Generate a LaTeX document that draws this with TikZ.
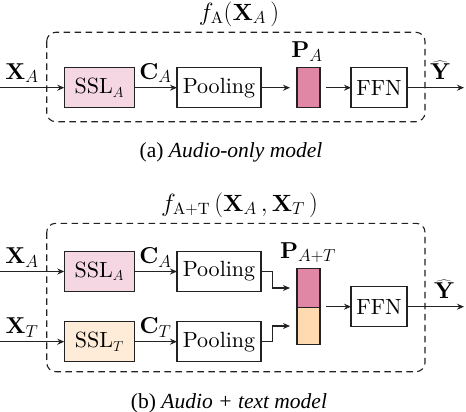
\documentclass[tikz,border=0pt]{standalone}
\usepackage{fontspec}
\setmainfont{lmroman10-regular.otf}[BoldFont=lmroman10-bold.otf, ItalicFont=lmroman10-italic.otf, BoldItalicFont=lmroman10-bolditalic.otf]
\newfontfamily\capfont{Liberation Serif}
\usetikzlibrary{arrows.meta,calc}
\definecolor{sslA}{HTML}{F4D7E2}
\definecolor{pA}{HTML}{DF87A5}
\definecolor{sslT}{HTML}{FEEBD8}
\definecolor{pT}{HTML}{FFDAB0}
\definecolor{ink}{HTML}{222222}
\begin{document}
\begin{tikzpicture}[x=1pt,y=-1pt, font=\fontsize{22}{26}\selectfont,
 blockbox/.style={draw=ink, line width=1.2pt, minimum height=40pt, inner sep=0pt, outer sep=0pt},
 sslbox/.style={blockbox, minimum width=70pt},
 poolbox/.style={blockbox, minimum width=84pt, fill=white},
 ffnbox/.style={blockbox, minimum width=56pt, fill=white},
 vecbox/.style={blockbox, minimum width=23pt},
 arr/.style={draw=ink, line width=1.2pt, -{Stealth[length=7pt,width=6pt]}},
 frame/.style={draw=ink, line width=1.1pt, dash pattern=on 6.5pt off 4.5pt, rounded corners=9pt},
 lab/.style={anchor=base, inner sep=0pt, font=\fontsize{23}{27}\selectfont},
 ttl/.style={inner sep=0pt, font=\fontsize{23.5}{27}\selectfont},
 captxt/.style={inner sep=0pt, font=\fontsize{21.5}{25}\capfont},
]
\useasboundingbox (0,0) rectangle (466,412);

% ---------- (a) ----------
\draw[frame] (46.7,32.3) rectangle (425,121.7);
\node[ttl] (titlea) at (239,14) {$f_{\mathrm{A}}(\mathbf{X}_A\,)$};
\coordinate (ina) at (0,87.7);
\coordinate (outa) at (464,87.7);
\node[sslbox, fill=sslA] (ssla) at (99.3,87.7) {SSL$_A$};
\node[poolbox] (poola) at (219,87.7) {Pooling};
\node[vecbox, fill=pA] (pa) at (308.5,87.7) {};
\node[ffnbox] (ffna) at (379,87.7) {FFN};
\draw[arr] (ina) -- (ssla.west);
\draw[arr] (ssla.east) -- (poola.west);
\draw[arr, shorten >=7pt] (poola.east) -- (pa.west);
\draw[arr, shorten <=6pt] (pa.east) -- (ffna.west);
\draw[arr] (ffna.east) -- (outa);
\node[lab] (xaa) at (22,79.2) {$\mathbf{X}_A$};
\node[lab] (caa) at (155.5,79.2) {$\mathbf{C}_A$};
\node[lab] (paa) at (307,58) {$\mathbf{P}_A$};
\node[lab] (ya) at (440,79.7) {$\widehat{\mathbf{Y}}$};
\node[captxt] (capa) at (231,152) {(a) \itshape Audio-only model};

% ---------- (b) ----------
\draw[frame] (46.7,223.3) rectangle (425,371.7);
\node[ttl] (titleb) at (239.5,205) {$f_{\mathrm{A+T}}\,(\mathbf{X}_A\,, \mathbf{X}_T\,)$};
\coordinate (inab) at (0,271.5);
\coordinate (intb) at (0,341.7);
\coordinate (outb) at (464,306.7);
\node[sslbox, fill=sslA] (sslab) at (99.3,271.5) {SSL$_A$};
\node[sslbox, fill=sslT] (ssltb) at (99.3,341.7) {SSL$_T$};
\node[poolbox] (poolab) at (219,271.5) {Pooling};
\node[poolbox] (pooltb) at (219,341.7) {Pooling};
\node[vecbox, fill=pA, minimum height=39pt] (ptop) at (308.5,288) {};
\node[vecbox, fill=pT, minimum height=37pt] (pbot) at (308.5,326) {};
\node[ffnbox] (ffnb) at (379,306.7) {FFN};
\draw[arr] (inab) -- (sslab.west);
\draw[arr] (intb) -- (ssltb.west);
\draw[arr] (sslab.east) -- (poolab.west);
\draw[arr] (ssltb.east) -- (pooltb.west);
\draw[arr, shorten >=7pt] (poolab.east) -- ++(11.5,0) |- (ptop.west);
\draw[arr, shorten >=7pt] (pooltb.east) -- ++(11.5,0) |- (pbot.west);
\draw[arr] ($(ffnb.west -| ptop.east)+(6,0)$) -- (ffnb.west);
\draw[arr] (ffnb.east) -- (outb);
\node[lab] (xab) at (22,263.5) {$\mathbf{X}_A$};
\node[lab] (xtb) at (22,333.7) {$\mathbf{X}_T$};
\node[lab] (cab) at (155.5,263.5) {$\mathbf{C}_A$};
\node[lab] (ctb) at (155.5,333.7) {$\mathbf{C}_T$};
\node[lab] (pab) at (308,258) {$\mathbf{P}_{A+T}$};
\node[lab] (yb) at (444,298.7) {$\widehat{\mathbf{Y}}$};
\node[captxt] (capb) at (229,403) {(b) \itshape Audio + text model};
\end{tikzpicture}
\end{document}
